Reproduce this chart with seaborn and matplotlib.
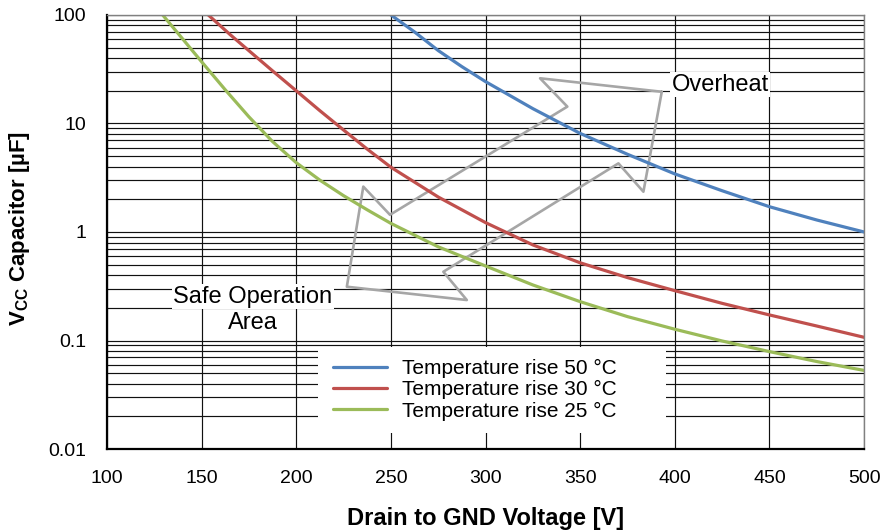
import numpy as np
import pandas as pd
import matplotlib
matplotlib.use("Agg")
import matplotlib.pyplot as plt
import matplotlib.patches as mpatches
from matplotlib.ticker import LogLocator, FuncFormatter, NullFormatter
import seaborn as sns

# values
volt_50 = [250, 262.5, 275, 287.5, 300, 325, 350, 375, 400, 425, 450, 475, 500]
cap_50 = [100, 69.7, 47, 33.4, 24.3, 13.7, 8.1, 5.2, 3.43, 2.4, 1.71, 1.29, 1.0]

volt_30 = [153.5, 165, 175, 187.5, 200, 212.5, 225, 237.5, 250, 275, 300, 325, 350,
           375, 400, 425, 450, 475, 500]
cap_30 = [100, 66, 46.8, 30.5, 20, 13.1, 8.7, 5.8, 3.95, 2.1, 1.22, 0.76, 0.52,
          0.38, 0.288, 0.22, 0.172, 0.136, 0.107]

volt_25 = [129.4, 140, 150, 162.5, 175, 187.5, 200, 212.5, 225, 237.5, 250, 275, 300,
           325, 350, 375, 400, 425, 450, 475, 500]
cap_25 = [100, 60, 37, 20.4, 11.5, 6.8, 4.35, 3.0, 2.16, 1.6, 1.2, 0.73, 0.486,
          0.325, 0.228, 0.166, 0.127, 0.099, 0.079, 0.064, 0.053]

series_labels = ["Temperature rise 50 °C", "Temperature rise 30 °C", "Temperature rise 25 °C"]
series_colors = ["#4F81BD", "#C0504D", "#9BBB59"]

# outline of the double arrow (Safe Operation <-> Overheat)
arrow_volt = [393.1, 328.8, 343.2, 249.5, 235.4, 226.7, 290.1, 277.7, 370.2, 383.4, 393.1]
arrow_cap = [19.6, 26.1, 14.3, 1.44, 2.62, 0.313, 0.236, 0.43, 4.29, 2.35, 19.6]

x_ticks = [100, 150, 200, 250, 300, 350, 400, 450, 500]

df = pd.concat([
    pd.DataFrame({"volt": volt_50, "cap": cap_50, "series": series_labels[0]}),
    pd.DataFrame({"volt": volt_30, "cap": cap_30, "series": series_labels[1]}),
    pd.DataFrame({"volt": volt_25, "cap": cap_25, "series": series_labels[2]}),
])

sns.set_style("white")
plt.rcParams['font.family'] = ['Liberation Sans', 'DejaVu Sans']
plt.rcParams['mathtext.fontset'] = 'custom'
plt.rcParams['mathtext.rm'] = 'Liberation Sans'
plt.rcParams['mathtext.bf'] = 'Liberation Sans:bold'
plt.rcParams['text.color'] = 'black'
plt.rcParams['axes.labelcolor'] = 'black'
plt.rcParams['xtick.color'] = 'black'
plt.rcParams['ytick.color'] = 'black'

fig = plt.figure(figsize=(8.81, 5.31), dpi=100)
ax = fig.add_axes([0.1215, 0.1544, 0.8593, 0.8174])

ax.plot(arrow_volt, arrow_cap, color="#A6A6A6", lw=1.9, zorder=1.8)

sns.lineplot(data=df, x="volt", y="cap", hue="series", hue_order=series_labels,
             palette=series_colors, estimator=None, sort=False, lw=2.3, ax=ax, zorder=2.5)

ax.set_yscale("log")
ax.set_ylim(0.01, 100)
ax.set_xlim(100, 500)
ax.set_xticks(x_ticks)
ax.yaxis.set_major_locator(LogLocator(base=10))
ax.yaxis.set_minor_locator(LogLocator(base=10, subs=np.arange(2, 10)))
ax.yaxis.set_major_formatter(FuncFormatter(lambda v, p: f"{v:g}"))
ax.yaxis.set_minor_formatter(NullFormatter())

ax.grid(which="major", color="#111111", lw=0.85)
ax.grid(which="minor", axis="y", color="#111111", lw=0.85)
ax.tick_params(which="both", length=0, labelsize=14, colors="black")
ax.tick_params(axis="y", pad=15)
ax.tick_params(axis="x", pad=15)

for side in ["left", "bottom"]:
    ax.spines[side].set_color("black")
    ax.spines[side].set_linewidth(1.6)
for side in ["top", "right"]:
    ax.spines[side].set_color("#808080")
    ax.spines[side].set_linewidth(1.0)

ax.set_xlabel("Drain to GND Voltage [V]", fontsize=17, fontweight="bold")
ax.set_ylabel(r"V$_{\mathbf{CC}}$ Capacitor [µF]", fontsize=16, fontweight="bold")
ax.xaxis.set_label_coords(0.5, -0.159)
ax.xaxis.label.set_verticalalignment("center")
ax.yaxis.set_label_coords(-0.0995, 0.507)

# legend sits on a plain white patch over the grid
ax.add_patch(mpatches.Rectangle((0.279, 0.037), 0.459, 0.198, transform=ax.transAxes,
                                facecolor="white", edgecolor="none", zorder=1.6))
handles, labels = ax.get_legend_handles_labels()
ax.legend(handles, labels, loc="upper left", bbox_to_anchor=(0.2985, 0.207),
          frameon=False, fontsize=15, handlelength=2.6, handletextpad=0.7,
          labelspacing=0.1, borderpad=0, borderaxespad=0)

box = dict(facecolor="white", edgecolor="none", pad=1)
ax.text(423.9, 20.0, "Overheat", ha="center", va="baseline", fontsize=17, bbox=box, zorder=3)
ax.text(176.9, 0.223, "Safe Operation", ha="center", va="baseline", fontsize=17, bbox=box, zorder=3)
ax.text(176.9, 0.129, "Area", ha="center", va="baseline", fontsize=17, bbox=box, zorder=3)

fig.savefig("out.png", dpi=100)
